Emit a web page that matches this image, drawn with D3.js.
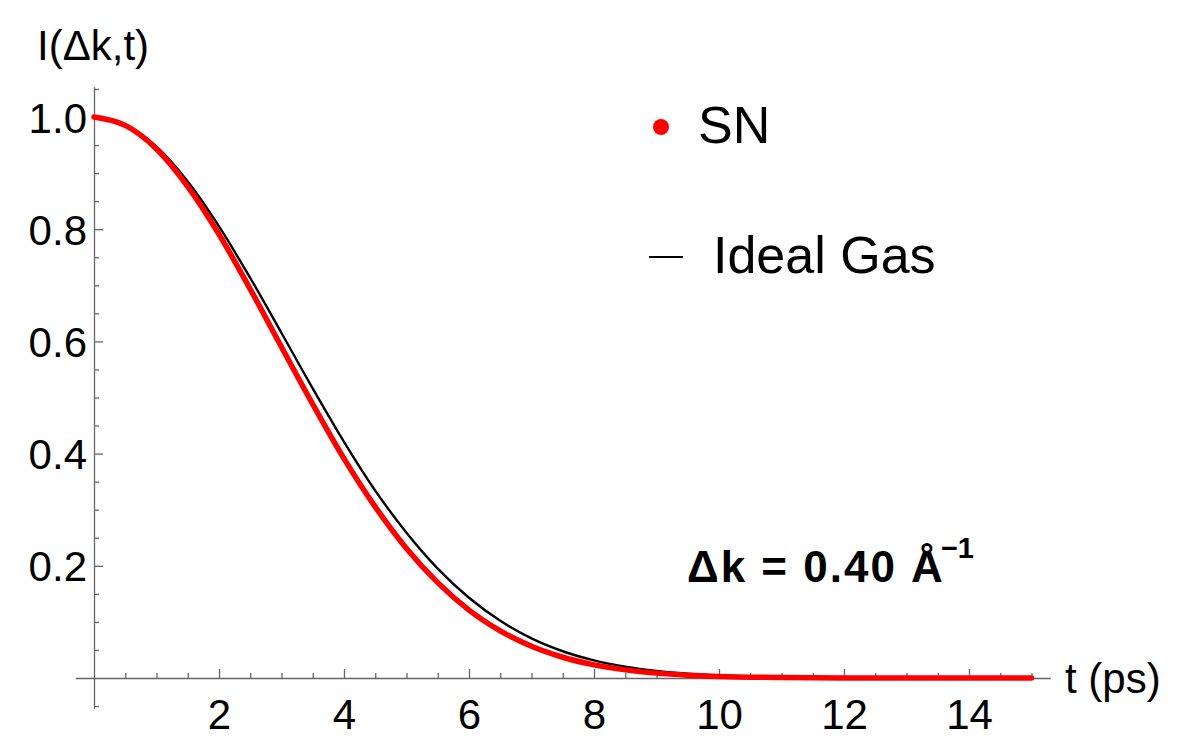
<!DOCTYPE html>
<html>
<head>
<meta charset="utf-8">
<script src="https://cdn.jsdelivr.net/npm/d3@7"></script>
<style>
  body { margin: 0; background: #fff; }
  svg { display: block; font-family: 'Liberation Sans', Arial, sans-serif; }
  .axis path, .axis line { stroke: #666; stroke-width: 1.3; }
  .axis text { fill: #000; font-size: 42px; font-family: 'Liberation Sans', Arial, sans-serif; }
</style>
</head>
<body>
<div id="chart"></div>
<script>
var times = [0, 0.5, 1, 1.5, 2, 2.5, 3, 3.5, 4, 4.5, 5, 5.5, 6, 6.5, 7, 7.5, 8, 8.5, 9, 9.5, 10, 11, 12, 13, 14, 15];

var snValues = [1, 0.985, 0.943, 0.876, 0.791, 0.693, 0.590, 0.488, 0.391, 0.305, 0.231, 0.170, 0.121, 0.084,
  0.0565, 0.037, 0.0235, 0.0145, 0.0087, 0.005, 0.0028, 0.0008, 0.0002, 0, 0, 0];

var idealGasValues = [1, 0.987, 0.947, 0.885, 0.805, 0.713, 0.615, 0.516, 0.421, 0.334, 0.259, 0.195, 0.143, 0.102,
  0.0706, 0.0477, 0.0314, 0.0201, 0.0125, 0.0076, 0.0045, 0.0014, 0.0004, 0.0001, 0, 0];

var xMajorTicks = [2, 4, 6, 8, 10, 12, 14];
var yMajorTicks = [0.2, 0.4, 0.6, 0.8, 1.0];

var width = 1181;
var height = 747;

var svg = d3.select('#chart').append('svg')
  .attr('width', width)
  .attr('height', height);

// axes run a little past the plotted range, as in the original
var x = d3.scaleLinear()
  .domain([-0.3, 15.3])
  .range([75.25, 1050.25]);

var y = d3.scaleLinear()
  .domain([-0.054, 1.054])
  .range([708.3, 86.7]);

var xMinor = d3.range(0.5, 15.01, 0.5).filter(function (d) {
  return d % 2 !== 0;
});
var yMinor = d3.range(-1, 22).map(function (i) {
  return i * 0.05;
}).filter(function (d) {
  return Math.abs(d * 5 - Math.round(d * 5)) > 1e-6;
});

// minor ticks first
svg.append('g')
  .attr('class', 'axis')
  .attr('transform', 'translate(0,' + y(0) + ')')
  .call(d3.axisBottom(x).tickValues(xMinor).tickSizeInner(-5).tickSizeOuter(0).tickFormat(''))
  .select('.domain').remove();

svg.append('g')
  .attr('class', 'axis')
  .attr('transform', 'translate(' + x(0) + ',0)')
  .call(d3.axisLeft(y).tickValues(yMinor).tickSizeInner(-5).tickSizeOuter(0).tickFormat(''))
  .select('.domain').remove();

var xAxis = svg.append('g')
  .attr('class', 'axis')
  .attr('transform', 'translate(0,' + y(0) + ')')
  .call(d3.axisBottom(x)
    .tickValues(xMajorTicks)
    .tickSizeInner(-9)
    .tickSizeOuter(0)
    .tickPadding(21)
    .tickFormat(d3.format('d')));

xAxis.select('.domain').attr('stroke', '#555');

var yAxis = svg.append('g')
  .attr('class', 'axis')
  .attr('transform', 'translate(' + x(0) + ',0)')
  .call(d3.axisLeft(y)
    .tickValues(yMajorTicks)
    .tickSizeInner(-9)
    .tickSizeOuter(0)
    .tickPadding(7)
    .tickFormat(d3.format('.1f')));

yAxis.selectAll('text').attr('dy', '0.36em');

var line = d3.line()
  .x(function (d) { return x(d[0]); })
  .y(function (d) { return y(d[1]); })
  .curve(d3.curveMonotoneX);

svg.append('path')
  .datum(d3.zip(times, idealGasValues))
  .attr('fill', 'none')
  .attr('stroke', '#000')
  .attr('stroke-width', 2.4)
  .attr('d', line);

svg.append('path')
  .datum(d3.zip(times, snValues))
  .attr('fill', 'none')
  .attr('stroke', '#ff0000')
  .attr('stroke-width', 5.5)
  .attr('stroke-linecap', 'round')
  .attr('d', line);

// axis labels
svg.append('text')
  .attr('x', 37)
  .attr('y', 60)
  .style('font-size', '42px')
  .text('I(Δk,t)');

svg.append('text')
  .attr('x', 1065)
  .attr('y', 693)
  .style('font-size', '42px')
  .text('t (ps)');

// legend
svg.append('circle')
  .attr('cx', 661)
  .attr('cy', 127)
  .attr('r', 8)
  .attr('fill', '#ff0000');

svg.append('text')
  .attr('x', 698)
  .attr('y', 143)
  .style('font-size', '52px')
  .text('SN');

svg.append('line')
  .attr('x1', 649)
  .attr('x2', 683)
  .attr('y1', 257)
  .attr('y2', 257)
  .attr('stroke', '#000')
  .attr('stroke-width', 2);

svg.append('text')
  .attr('x', 713)
  .attr('y', 273)
  .style('font-size', '52px')
  .text('Ideal Gas');

// annotation
var note = svg.append('text')
  .attr('x', 687)
  .attr('y', 582)
  .style('font-size', '44px')
  .style('font-weight', 'bold');

note.append('tspan')
  .style('letter-spacing', '2px')
  .text('Δk = 0.40 Å');
note.append('tspan')
  .attr('dy', -24)
  .attr('dx', -4)
  .style('font-size', '29px')
  .text('−1');
</script>
</body>
</html>
